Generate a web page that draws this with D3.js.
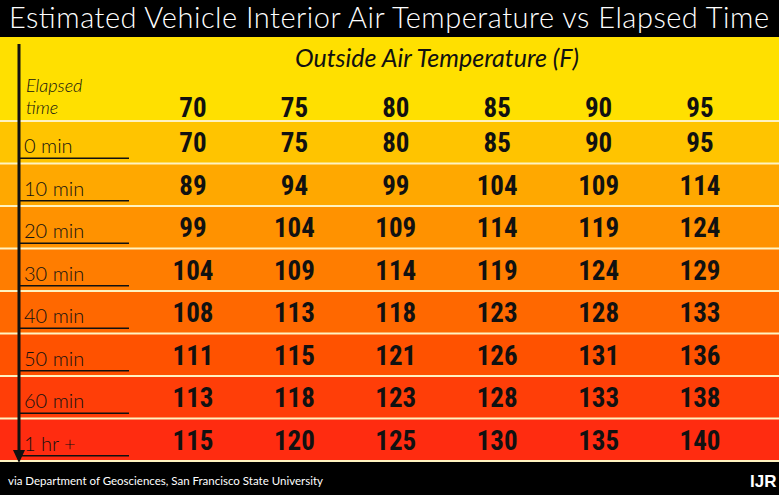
<!DOCTYPE html><html><head><meta charset="utf-8"><script src="https://cdn.jsdelivr.net/npm/d3@7"></script>
<style>body{margin:0;background:#000}svg{display:block}</style></head><body><svg id="c" width="779" height="495"></svg>
<script>
const outsideTemps=[70,75,80,85,90,95];
const rowLabels=["0 min","10 min","20 min","30 min","40 min","50 min","60 min","1 hr +"];
const values=[
[70,75,80,85,90,95],
[89,94,99,104,109,114],
[99,104,109,114,119,124],
[104,109,114,119,124,129],
[108,113,118,123,128,133],
[111,115,121,126,131,136],
[113,118,123,128,133,138],
[115,120,125,130,135,140]];
const rowColors=["#ffc400","#ffa800","#ff9200","#ff7d00","#ff6800","#ff5200","#ff3e08","#ff2c10"];
const svg=d3.select("#c");
const W=779,H=495;
svg.append("rect").attr("width",W).attr("height",H).attr("fill","#000");
const x=d3.scalePoint().domain(outsideTemps).range([193,700]);
const y=d3.scaleBand().domain(rowLabels).range([121,461]).paddingInner(0);
svg.append("rect").attr("x",0).attr("y",37).attr("width",W).attr("height",121-37).attr("fill","#ffe000");
rowLabels.forEach((r,i)=>{
 svg.append("rect").attr("x",0).attr("y",y(r)).attr("width",W).attr("height",y.bandwidth()).attr("fill",rowColors[i]);
 svg.append("line").attr("x1",0).attr("x2",W).attr("y1",y(r)).attr("y2",y(r)).attr("stroke","#fff3c0").attr("stroke-width",2);
});
svg.append("line").attr("x1",0).attr("x2",W).attr("y1",461).attr("y2",461).attr("stroke","#fff3c0").attr("stroke-width",2);
svg.append("text").attr("x",389).attr("y",28).attr("text-anchor","middle").attr("fill","#fff")
 .attr("font-family","Lato, sans-serif").attr("font-weight",300).attr("font-size",29).attr("textLength",760).text("Estimated Vehicle Interior Air Temperature vs Elapsed Time");
svg.append("text").attr("x",437).attr("y",67).attr("text-anchor","middle").attr("fill","#111")
 .attr("font-family","Lato, sans-serif").attr("font-style","italic").attr("font-weight",400).attr("font-size",25).text("Outside Air Temperature (F)");
const lab=svg.append("g").attr("font-family","Lato, sans-serif").attr("font-weight",300).attr("fill","#111");
lab.append("text").attr("x",26).attr("y",92).attr("font-style","italic").attr("font-size",18).text("Elapsed");
lab.append("text").attr("x",26).attr("y",114).attr("font-style","italic").attr("font-size",18).text("time");
const num=svg.append("g").attr("font-family","'Liberation Sans Narrow', 'Roboto Condensed', sans-serif").attr("font-weight","bold").attr("font-size",27).attr("fill","#111").attr("text-anchor","middle");
outsideTemps.forEach(t=>num.append("text").attr("x",x(t)).attr("y",117).text(t));
rowLabels.forEach((r,i)=>{
 const cy=y(r)+y.bandwidth()/2;
 lab.append("text").attr("x",24).attr("y",cy+11).attr("font-size",20).text(r);
 svg.append("line").attr("x1",20).attr("x2",129).attr("y1",cy+16).attr("y2",cy+16).attr("stroke","#111").attr("stroke-width",1.5);
 values[i].forEach((v,j)=>num.append("text").attr("x",x(outsideTemps[j])).attr("y",cy+10).text(v));
});
svg.append("line").attr("x1",19).attr("x2",19).attr("y1",44).attr("y2",455).attr("stroke","#111").attr("stroke-width",3);
svg.append("path").attr("d","M13,450 L25,450 L19,463 Z").attr("fill","#111");
svg.append("text").attr("x",8).attr("y",485).attr("fill","#fff").attr("font-family","Lato, sans-serif").attr("font-size",11.5).text("via Department of Geosciences, San Francisco State University");
svg.append("text").attr("x",750).attr("y",487).attr("fill","#fff").attr("font-family","'Liberation Sans Narrow', sans-serif").attr("font-weight","bold").attr("font-size",17).text("IJR");
</script></body></html>
